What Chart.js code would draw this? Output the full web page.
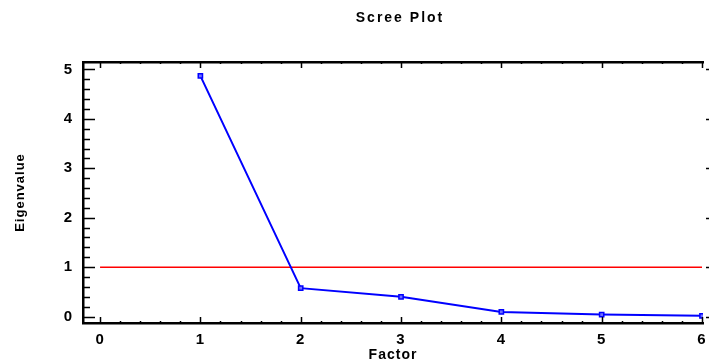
<!DOCTYPE html>
<html>
<head>
<meta charset="utf-8">
<script src="https://cdn.jsdelivr.net/npm/chart.js@4/dist/chart.umd.min.js"></script>
<style>
  html, body { margin: 0; padding: 0; background: #fff; }
  #wrap { width: 709px; height: 364px; }
</style>
</head>
<body>
<div id="wrap"><canvas id="scree"></canvas></div>
<script>
// ── data ──
const factors     = [1, 2, 3, 4, 5, 6];
const eigenvalues = [4.87, 0.575, 0.40, 0.095, 0.04, 0.015];
const refX        = [0, 6];
const refY        = [1, 1];
const xTicks      = [0, 1, 2, 3, 4, 5, 6];
const yTicks      = [0, 1, 2, 3, 4, 5];

const FONT = 'Liberation Sans, Arial, sans-serif';

// wide-ish text like the original
const spacing = {
  id: 'spacing',
  beforeDraw(chart) { chart.ctx.letterSpacing = '1px'; }
};

// inward tick marks + title, drawn off the scales
const frameTicks = {
  id: 'frameTicks',
  afterDraw(chart) {
    const { ctx, chartArea: a } = chart;
    const x = chart.scales.x, y = chart.scales.y;
    ctx.save();
    ctx.strokeStyle = '#000';
    ctx.lineWidth = 1.5;
    ctx.beginPath();
    for (let v = 0; v <= 5.001; v += 0.2) {
      const py = Math.round(y.getPixelForValue(v)) + 0.5;
      const major = Math.abs(v - Math.round(v)) < 1e-6;
      ctx.moveTo(a.left, py);
      ctx.lineTo(a.left + (major ? 12 : 7), py);
      if (major) { ctx.moveTo(706, py); ctx.lineTo(709, py); }
    }
    ctx.stroke();
    ctx.beginPath();
    for (let v = 0; v <= 6.001; v += 0.2) {
      const px = Math.round(x.getPixelForValue(v)) + 0.5;
      const major = Math.abs(v - Math.round(v)) < 1e-6;
      const len = major ? 6 : 2;
      ctx.moveTo(px, a.bottom);
      ctx.lineTo(px, a.bottom - len);
      ctx.moveTo(px, a.top);
      ctx.lineTo(px, a.top + len);
    }
    ctx.stroke();
    // title
    ctx.fillStyle = '#000';
    ctx.font = 'bold 14px ' + FONT;
    ctx.letterSpacing = '2px';
    ctx.textAlign = 'center';
    ctx.textBaseline = 'middle';
    ctx.fillText('Scree Plot', 400, 18);
    ctx.restore();
  }
};

const noSidePad = s => { s.paddingLeft = 0; s.paddingRight = 0; };

new Chart(document.getElementById('scree'), {
  type: 'line',
  data: {
    datasets: [
      {
        label: 'Eigenvalue',
        data: factors.map((f, i) => ({ x: f, y: eigenvalues[i] })),
        borderColor: '#0000ff',
        borderWidth: 2,
        pointStyle: 'rect',
        pointRadius: 3,
        pointBorderWidth: 1.5,
        pointBorderColor: '#0000ff',
        pointBackgroundColor: '#7070ff',
        tension: 0,
        order: 1,
      },
      {
        label: 'ref',
        data: refX.map((v, i) => ({ x: v, y: refY[i] })),
        borderColor: '#ff0000',
        borderWidth: 1.5,
        pointRadius: 0,
        tension: 0,
        order: 2,
      },
    ],
  },
  options: {
    responsive: true,
    maintainAspectRatio: false,
    animation: false,
    events: [],
    layout: { padding: { top: 62, right: 6, left: 13, bottom: 0 } },
    plugins: { legend: { display: false }, tooltip: { enabled: false } },
    scales: {
      x: {
        type: 'linear',
        position: 'bottom',
        min: -0.17,
        max: 6.01,
        afterFit: s => { s.height = 41; noSidePad(s); },
        afterBuildTicks: s => { s.ticks = xTicks.map(v => ({ value: v })); },
        grid: { drawOnChartArea: false, drawTicks: false },
        border: { display: true, color: '#000', width: 2.5 },
        ticks: { color: '#000', padding: 8, font: { family: FONT, size: 15, weight: 'bold' } },
        title: { display: true, text: 'Factor', color: '#000', padding: { top: 0, bottom: 0 },
                 font: { family: FONT, size: 14, weight: 'bold' } },
      },
      x2: {
        type: 'linear',
        position: 'top',
        min: -0.17,
        max: 6.01,
        afterFit: s => { s.height = 0; noSidePad(s); },
        grid: { drawOnChartArea: false, drawTicks: false },
        border: { display: true, color: '#000', width: 2.5 },
        ticks: { display: false },
      },
      y: {
        type: 'linear',
        min: -0.13,
        max: 5.15,
        afterFit: s => { s.width = 70; },
        afterBuildTicks: s => { s.ticks = yTicks.map(v => ({ value: v })); },
        grid: { drawOnChartArea: false, drawTicks: false },
        border: { display: true, color: '#000', width: 2.5 },
        ticks: { color: '#000', padding: 10, font: { family: FONT, size: 15, weight: 'bold' } },
        title: { display: true, text: 'Eigenvalue', color: '#000', padding: { top: 0, bottom: 0 },
                 font: { family: FONT, size: 13, weight: 'bold' } },
      },
    },
  },
  plugins: [spacing, frameTicks],
});
</script>
</body>
</html>
